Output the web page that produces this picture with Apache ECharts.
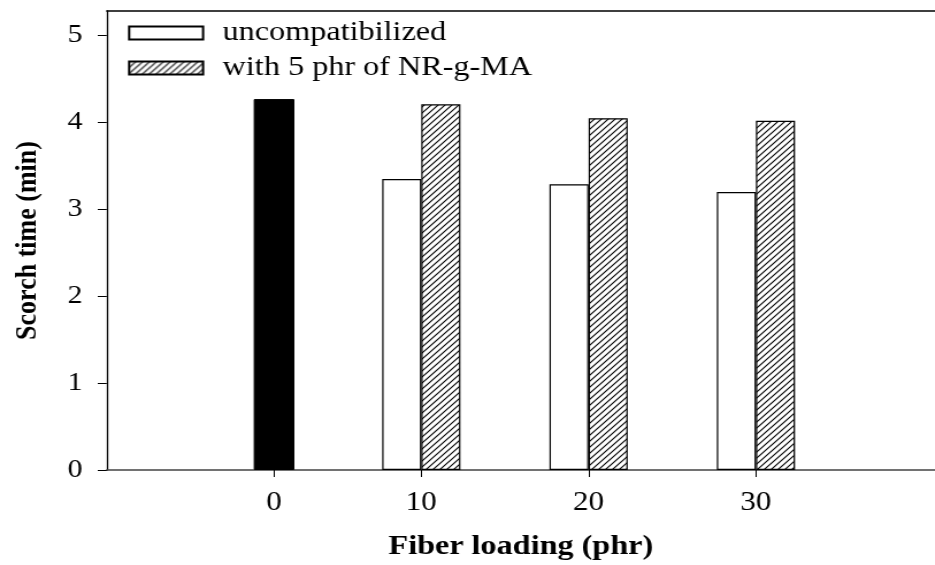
<!DOCTYPE html>
<html>
<head>
<meta charset="utf-8">
<script src="https://cdn.jsdelivr.net/npm/echarts@6/dist/echarts.min.js"></script>
<style>
  html, body { margin: 0; padding: 0; background: #fff; }
  #wrap { width: 935px; height: 565px; overflow: hidden; position: relative; }
  #chart { width: 813px; height: 565px; transform: scaleX(1.15); transform-origin: 0 0; }
</style>
</head>
<body>
<div id="wrap"><div id="chart"></div></div>
<script>
// ---- data ----
const tickLabels = ['0', '10', '20', '30'];        // fiber loading (phr)
const tickPositions = [1.2, 10, 20, 30];           // where each label sits on the axis
const compatLoadings = [10, 20, 30];
const uncompatibilized = [3.35, 3.29, 3.20];       // scorch time (min)
const withNRgMA = [4.21, 4.05, 4.02];              // scorch time (min)
const controlLoading = [1.2];
const controlValue = [4.27];                        // 0 phr fiber
const yTicks = [0, 1, 2, 3, 4, 5];

// hatch pattern
const T = 6;
const tile = document.createElement('canvas');
tile.width = T; tile.height = T;
const g = tile.getContext('2d');
g.fillStyle = '#fff'; g.fillRect(0, 0, T, T);
g.strokeStyle = '#000'; g.lineWidth = 1.1;
g.beginPath();
g.moveTo(-1, T + 1); g.lineTo(T + 1, -1);
g.moveTo(-1, 1); g.lineTo(1, -1);
g.moveTo(T - 1, T + 1); g.lineTo(T + 1, T - 1);
g.stroke();

const FONT = "'Liberation Serif', 'Times New Roman', serif";
const chart = echarts.init(document.getElementById('chart'));
const xMin = -8.8, xMax = 40.7;

chart.setOption({
  animation: false,
  backgroundColor: '#fff',
  textStyle: { fontFamily: FONT, color: '#000' },
  grid: { left: 92.8, right: 0, top: 11, bottom: 95, outerBoundsMode: 'none', containLabel: false },
  legend: {
    data: ['uncompatibilized', 'with 5 phr of NR-g-MA'],
    orient: 'vertical',
    left: 111.3, top: 17.5,
    padding: 0,
    itemWidth: 64.3, itemHeight: 13, itemGap: 4,
    icon: 'rect',
    textStyle: { fontFamily: FONT, fontSize: 28, lineHeight: 28, color: '#000', padding: [3, 0, 0, 12] }
  },
  xAxis: [
    {
      type: 'value', min: xMin, max: xMax,
      position: 'bottom',
      splitLine: { show: false },
      axisLine: { show: true, onZero: false, lineStyle: { color: '#444', width: 1.6 } },
      axisTick: { show: true, inside: false, length: 7, customValues: tickPositions, lineStyle: { color: '#000', width: 1 } },
      axisLabel: {
        show: true, margin: 19, fontFamily: FONT, fontSize: 27, color: '#000',
        customValues: tickPositions,
        formatter: function (v) {
          const i = tickPositions.findIndex(p => Math.abs(p - v) < 1e-6);
          return i >= 0 ? tickLabels[i] : '';
        }
      },
      name: 'Fiber loading (phr)',
      nameLocation: 'middle', nameGap: 63,
      nameTextStyle: { fontFamily: FONT, fontSize: 28, fontWeight: 'bold', color: '#000' }
    },
    {
      type: 'value', min: xMin, max: xMax,
      position: 'top',
      splitLine: { show: false },
      axisLine: { show: true, onZero: false, lineStyle: { color: '#000', width: 1.5 } },
      axisTick: { show: false },
      axisLabel: { show: false }
    }
  ],
  yAxis: {
    type: 'value', min: 0, max: 5.284,
    splitLine: { show: false },
    axisLine: { show: true, onZero: false, lineStyle: { color: '#000', width: 1.3 } },
    axisTick: { show: true, inside: false, length: 7.8, customValues: yTicks, lineStyle: { color: '#000', width: 1 } },
    axisLabel: {
      fontFamily: FONT, fontSize: 26, color: '#000', margin: 21,
      customValues: yTicks,
      formatter: function (v) { return Number.isInteger(v) ? String(v) : ''; }
    },
    name: 'Scorch time (min)',
    nameLocation: 'middle', nameGap: 56,
    nameTextStyle: { fontFamily: FONT, fontSize: 26, fontWeight: 'bold', color: '#000' }
  },
  series: [
    {
      name: 'uncompatibilized', type: 'bar', xAxisIndex: 0,
      data: compatLoadings.map((x, i) => [x, uncompatibilized[i]]),
      barWidth: 34, barGap: '0%',
      itemStyle: { color: '#fff', borderColor: '#000', borderWidth: 1.2 }
    },
    {
      name: 'with 5 phr of NR-g-MA', type: 'bar', xAxisIndex: 0,
      data: compatLoadings.map((x, i) => [x, withNRgMA[i]]),
      barWidth: 34, barGap: '0%',
      itemStyle: { color: { image: tile, repeat: 'repeat' }, borderColor: '#000', borderWidth: 1.2 }
    },
    {
      name: 'control', type: 'bar', xAxisIndex: 1,
      data: controlLoading.map((x, i) => [x, controlValue[i]]),
      barWidth: 35.4,
      itemStyle: { color: '#000', borderColor: '#000', borderWidth: 1 }
    }
  ]
});
</script>
</body>
</html>
